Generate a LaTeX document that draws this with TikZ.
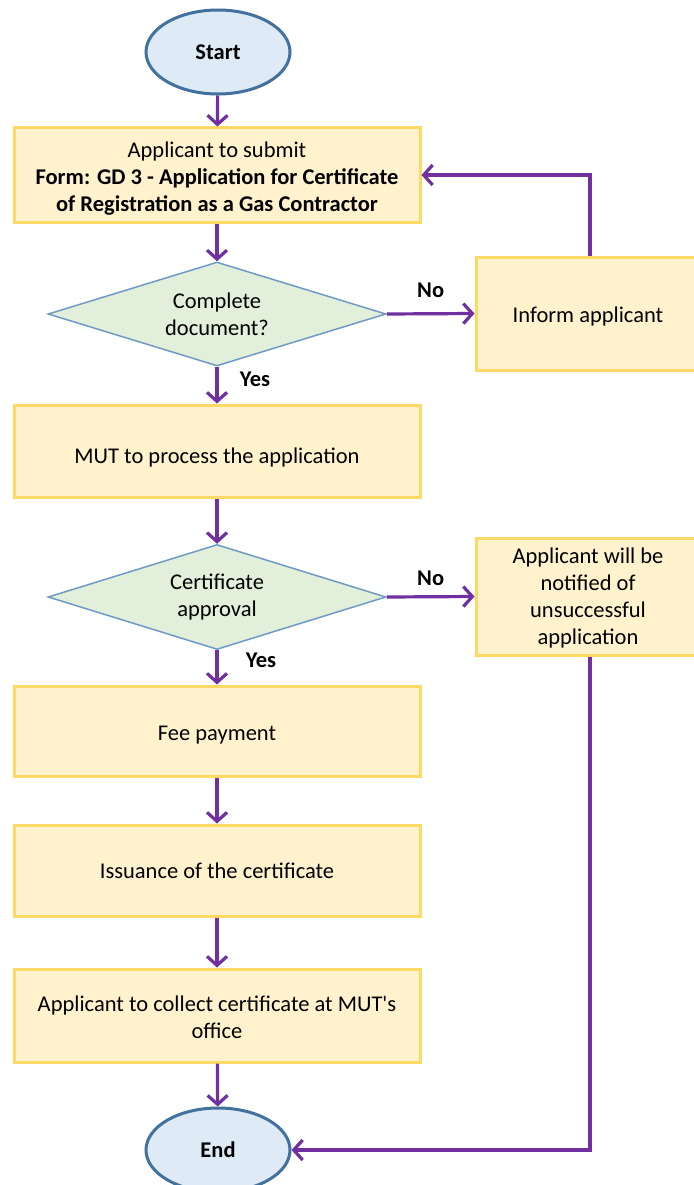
\documentclass[tikz,border=0pt]{standalone}
\usepackage{fontspec}
\setmainfont{Carlito}
\usetikzlibrary{arrows.meta,shapes.geometric}
\definecolor{boxfill}{HTML}{FFF2CC}
\definecolor{boxline}{HTML}{FFD966}
\definecolor{dfill}{HTML}{E2EFDA}
\definecolor{dline}{HTML}{6E9BC5}
\definecolor{efill}{HTML}{DEEBF7}
\definecolor{eline}{HTML}{41719C}
\definecolor{flowc}{HTML}{7030A0}
\begin{document}
\begin{tikzpicture}[x=1pt,y=-1pt,
  every node/.style={font=\fontsize{22.5}{27}\selectfont, text=black},
  procbox/.style={draw=boxline, fill=boxfill, line width=3pt, rectangle, align=center, inner sep=2pt},
  decbox/.style={draw=dline, fill=dfill, line width=1.5pt, diamond, aspect=3.25, align=center, inner sep=0pt},
  termbox/.style={draw=eline, fill=efill, line width=3pt, ellipse, minimum width=144pt, minimum height=84pt, inner sep=0pt, font=\fontsize{22.5}{27}\selectfont\bfseries},
  flow/.style={draw=flowc, line width=3.2pt, -{Straight Barb[length=9pt,width=20pt,line width=3.2pt]}},
  lbl/.style={font=\fontsize{22.5}{27}\selectfont\bfseries}
]
\useasboundingbox[fill=white] (0,0) rectangle (693,1185);

\node[termbox] (start) at (218,52) {Start};
\node[procbox, minimum width=406pt, minimum height=94pt, text height=78pt, text depth=5pt] (submit) at (217,175)
  {Applicant to submit\\\textbf{Form: GD 3 - Application for Certificate}\\\textbf{of Registration as a Gas Contractor}};
\node[decbox, minimum width=338pt, minimum height=104pt] (complete) at (217,314) {Complete\\document?};
\node[procbox, minimum width=224pt, minimum height=113pt, text height=18pt, text depth=0pt] (inform) at (588,313.5) {Inform applicant};
\node[procbox, minimum width=406pt, minimum height=92pt, text height=24pt, text depth=0pt] (process) at (217,451) {MUT to process the application};
\node[decbox, minimum width=338pt, minimum height=105pt] (approval) at (217,597) {Certificate\\approval};
\node[procbox, minimum width=224pt, minimum height=117pt, text height=101pt, text depth=5pt] (notify) at (588,596.5) {Applicant will be\\notified of\\unsuccessful\\application};
\node[procbox, minimum width=406pt, minimum height=90pt, text height=18pt, text depth=0pt] (fee) at (217,731) {Fee payment};
\node[procbox, minimum width=406pt, minimum height=91pt] (issue) at (217,870.5) {Issuance of the certificate};
\node[procbox, minimum width=406pt, minimum height=93pt, text height=51pt, text depth=5pt] (collect) at (217,1015.5) {Applicant to collect certificate at MUT\textquotesingle s\\office};
\node[termbox] (end) at (218,1150) {End};

\draw[flow] (start) -- (submit);
\draw[flow] (submit) -- (complete);
\draw[flow] (complete.east) -- node[lbl, above=11pt, pos=0.5] {No} (inform.west);
\draw[flow] ([xshift=2pt]inform.north) |- (submit.east);
\draw[flow] (complete.south) -- node[lbl, right=18pt, pos=0.35] {Yes} (process.north);
\draw[flow] (process) -- (approval);
\draw[flow] (approval.east) -- node[lbl, above=6pt, pos=0.5] {No} (notify.west);
\draw[flow] (approval.south) -- node[lbl, right=24pt, pos=0.3] {Yes} (fee.north);
\draw[flow] (fee) -- (issue);
\draw[flow] (issue) -- (collect);
\draw[flow] (collect) -- (end);
\draw[flow] ([xshift=2pt]notify.south) |- (end.east);
\end{tikzpicture}
\end{document}
